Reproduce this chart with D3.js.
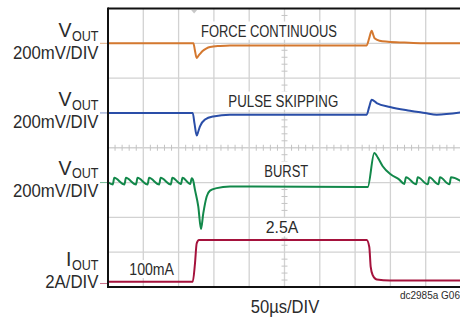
<!DOCTYPE html>
<html>
<head>
<meta charset="utf-8">
<script src="https://cdn.jsdelivr.net/npm/d3@7"></script>
<style>
  body { margin: 0; background: #fff; }
  text { font-family: "Liberation Sans", Arial, sans-serif; fill: #2b2b2b; }
</style>
</head>
<body>
<div id="scope"></div>
<script>

// scope capture: 50us/div, 10 divisions across, 8 down

const width = 460, height = 317;
const margin = {left: 108, top: 8.5, right: -1, bottom: 30};

// trace 1: force continuous, Vout deviation (mV)
const forceT  = [0, 121, 123, 125.6, 128, 130.3, 134, 139, 144.5, 158.6, 172.8, 366.4, 370, 373.5, 376, 377.6, 384.7, 396.5, 420, 446, 500];
const forceMv = [0, 0, -38, -84, -72, -61, -44, -30, -21, -15, -12, -12, 30, 72, 45, 29, 15, 9, 4, 0, 0];

// trace 2: pulse skipping, Vout deviation (mV)
const pulseT  = [0, 120, 122.5, 125.6, 128, 130.3, 137.4, 149.1, 172.8, 366.4, 370, 373.5, 380.6, 399.4, 427.7, 449, 465.6, 500];
const pulseMv = [0, 0, -60, -130, -105, -77, -38, -20, -10, -10, 35, 76, 57, 34, 13, 0, -10, 3];

// trace 3: burst, Vout deviation (mV)
const burstT  = [0, 6.8, 8.9, 23.3, 25.4, 39.7, 41.8, 56.1, 58.2, 72.5, 74.6, 89.0, 91.1, 103.4, 105.5, 116.5, 118.6,
                 120.4, 123.2, 127.9, 131.7, 135.0, 139.8, 144.5, 154.0, 172.8, 196.5, 367.8, 377.2, 382.4, 389.1,
                 400.8, 412.6, 419.7, 422.1, 436.5, 438.7, 453.0, 455.1, 468.1, 470.2, 483.7, 485.8, 500];
const burstMv = [2, -11, 27, -11, 27, -11, 27, -11, 27, -11, 27, -11, 27, -8, 27, -8, 25,
                 15, -42, -138, -267, -176, -80, -46, -32, -23, -22, -26, 170, 142, 94,
                 46, 17, -8, 30, -10, 30, -10, 30, -10, 30, -10, 30, 8];

// trace 4: load current (A)
const loadT = [0, 120, 123.2, 125.6, 128.9, 131, 366.4, 370.1, 372.1, 374.9, 380.6, 399.4, 500];
const loadA = [0.1, 0.1, 1.15, 2.3, 2.5, 2.5, 2.5, 2.1, 0.95, 0.48, 0.23, 0.17, 0.17];

// channel labels
const chanSymbol = ["V", "V", "V", "I"];
const chanSub    = ["OUT", "OUT", "OUT", "OUT"];
const chanScale  = ["200mV/DIV", "200mV/DIV", "200mV/DIV", "2A/DIV"];
const traceNames = ["FORCE CONTINUOUS", "PULSE SKIPPING", "BURST", "2.5A", "100mA"];
const timeLabel = "50µs/DIV";
const figLabel = "dc2985a G06";
const triggerT = 122;

// per-channel display setup (offset in div, units per div)
const chans = [
  {t: forceT, v: forceMv, perDiv: 200, offset: 3,    color: "#d4782f"},
  {t: pulseT, v: pulseMv, perDiv: 200, offset: 1,    color: "#2a4ea8"},
  {t: burstT, v: burstMv, perDiv: 200, offset: -1,   color: "#12884a"},
  {t: loadT,  v: loadA,   perDiv: 2,   offset: -3.9, color: "#a5123c"}
];

const svg = d3.select("#scope")
  .append("svg")
  .attr("width", width)
  .attr("height", height);

const x = d3.scaleLinear()
  .domain([0, 500])
  .range([margin.left, width - margin.right]);

const y = d3.scaleLinear()
  .domain([-4, 4])
  .range([height - margin.bottom, margin.top]);

// grid
const grid = svg.append("g").attr("stroke", "#d2d2d2").attr("stroke-width", 1.3);
grid.selectAll("line.v")
  .data(d3.range(50, 500, 50))
  .enter().append("line")
  .attr("x1", d => x(d)).attr("x2", d => x(d))
  .attr("y1", y(4)).attr("y2", y(-4));
grid.selectAll("line.h")
  .data(d3.range(-3, 4, 1))
  .enter().append("line")
  .attr("x1", x(0)).attr("x2", x(500))
  .attr("y1", d => y(d)).attr("y2", d => y(d));

// minor ticks on center axes
const ticks = svg.append("g").attr("stroke", "#c4c4c4").attr("stroke-width", 1);
ticks.selectAll("line.tx")
  .data(d3.range(0, 500, 10).filter(d => d % 50 != 0))
  .enter().append("line")
  .attr("x1", d => x(d)).attr("x2", d => x(d))
  .attr("y1", y(0) - 3).attr("y2", y(0) + 3);
ticks.selectAll("line.ty")
  .data(d3.range(-4, 4, 0.2).filter(d => Math.abs(d - Math.round(d)) > 0.01))
  .enter().append("line")
  .attr("x1", x(250) - 3).attr("x2", x(250) + 3)
  .attr("y1", d => y(d)).attr("y2", d => y(d));

// trigger marker
svg.append("path")
  .attr("d", `M${x(triggerT) - 3},${y(4) + 1.5} L${x(triggerT) + 3},${y(4) + 1.5} L${x(triggerT)},${y(4) + 5} Z`)
  .attr("fill", "#c8c8c8");

// in-plot labels with white box behind
const inLabels = [
  {text: traceNames[0], x: 201,   y: 36.7,  w: 136,  fs: 16.3},
  {text: traceNames[1], x: 228.3, y: 106.7, w: 110,  fs: 16.3},
  {text: traceNames[2], x: 264.3, y: 176.7, w: 44,   fs: 16.3},
  {text: traceNames[3], x: 265.7, y: 233.3, w: 32.6, fs: 16.3},
  {text: traceNames[4], x: 129.3, y: 275,   w: 44.7, fs: 16}
];
svg.selectAll("rect.lbl")
  .data(inLabels)
  .enter().append("rect")
  .attr("x", d => d.x - 3)
  .attr("y", d => d.y - d.fs * 0.75 - 3)
  .attr("width", d => d.w + 6)
  .attr("height", d => d.fs * 0.75 + 6)
  .attr("fill", "#fff");
svg.selectAll("text.lbl")
  .data(inLabels)
  .enter().append("text")
  .attr("x", d => d.x).attr("y", d => d.y)
  .attr("font-size", d => d.fs + "px")
  .attr("textLength", d => d.w)
  .attr("lengthAdjust", "spacingAndGlyphs")
  .text(d => d.text);

// traces
const line = d3.line().curve(d3.curveMonotoneX);
chans.forEach(c => {
  const pts = c.t.map((t, i) => [x(t), y(c.offset + c.v[i] / c.perDiv)]);
  svg.append("path")
    .attr("d", line(pts))
    .attr("fill", "none")
    .attr("stroke", c.color)
    .attr("stroke-width", 2)
    .attr("stroke-linejoin", "round");
  // ground marker left of frame
  svg.append("line")
    .attr("x1", margin.left - 8).attr("x2", margin.left)
    .attr("y1", y(c.offset)).attr("y2", y(c.offset))
    .attr("stroke", c.color).attr("stroke-opacity", 0.6).attr("stroke-width", 1);
});

// frame
const frame = svg.append("g").attr("stroke", "#111").attr("stroke-width", 2);
frame.append("line").attr("x1", x(0)).attr("x2", width).attr("y1", y(4)).attr("y2", y(4));
frame.append("line").attr("x1", x(0)).attr("x2", width).attr("y1", y(-4)).attr("y2", y(-4));
frame.append("line").attr("x1", x(0)).attr("x2", x(0)).attr("y1", y(4) - 1).attr("y2", y(-4) + 1);

// channel labels on the left
const rowBase = [59.3, 128.3, 196.7, 288.3];
const labelRight = 98.5;
const scaleW = [85.6, 85.6, 85.6, 53.3];
rowBase.forEach((b, i) => {
  svg.append("text")
    .attr("x", labelRight).attr("y", b)
    .attr("text-anchor", "end")
    .attr("font-size", "17.5px")
    .attr("textLength", scaleW[i]).attr("lengthAdjust", "spacingAndGlyphs")
    .text(chanScale[i]);
  svg.append("text")
    .attr("x", labelRight).attr("y", b - 18.5)
    .attr("text-anchor", "end")
    .attr("font-size", "14.8px")
    .attr("textLength", 26.6).attr("lengthAdjust", "spacingAndGlyphs")
    .text(chanSub[i]);
  svg.append("text")
    .attr("x", labelRight - 27).attr("y", b - 22)
    .attr("text-anchor", "end")
    .attr("font-size", "19.5px")
    .text(chanSymbol[i]);
});

// time base and figure id
svg.append("text")
  .attr("x", 250.7).attr("y", 312.5)
  .attr("font-size", "19px")
  .attr("textLength", 68.6).attr("lengthAdjust", "spacingAndGlyphs")
  .text(timeLabel);
svg.append("text")
  .attr("x", 460).attr("y", 299.3)
  .attr("text-anchor", "end")
  .attr("font-size", "10px")
  .attr("fill", "#444")
  .text(figLabel);

</script>
</body>
</html>
